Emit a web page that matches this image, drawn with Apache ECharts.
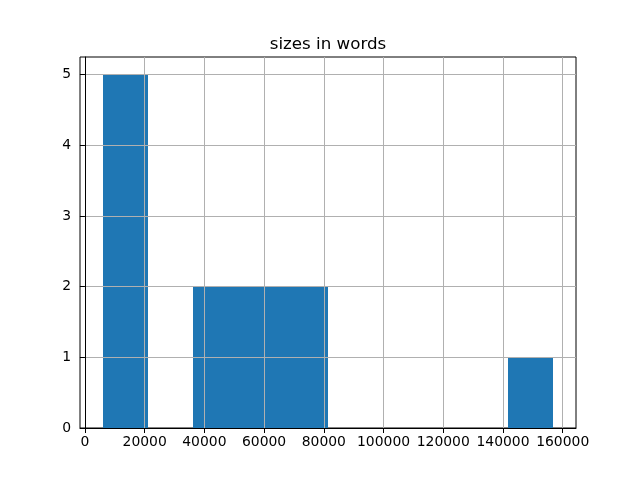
<!DOCTYPE html>
<html>
<head>
<meta charset="utf-8">
<script src="https://cdn.jsdelivr.net/npm/echarts@6/dist/echarts.min.js"></script>
<style>html,body{margin:0;padding:0;background:#fff}#c{width:640px;height:480px}</style>
</head>
<body>
<div id="c"></div>
<script>
var titleText = 'sizes in words';
var binStarts = [5900, 21000, 36100, 51200, 66300, 81400, 96500, 111600, 126700, 141800];
var binEnds   = [21000, 36100, 51200, 66300, 81400, 96500, 111600, 126700, 141800, 156900];
var counts    = [5, 0, 2, 2, 2, 0, 0, 0, 0, 1];
var xTicks = [0, 20000, 40000, 60000, 80000, 100000, 120000, 140000, 160000];
var yTicks = [0, 1, 2, 3, 4, 5];

var data = [];
for (var i = 0; i < counts.length; i++) {
  if (counts[i] > 0) data.push([binStarts[i], binEnds[i], counts[i]]);
}
var font = 'DejaVu Sans';
var chart = echarts.init(document.getElementById('c'), null, {renderer: 'canvas'});
chart.setOption({
  animation: false,
  backgroundColor: '#fff',
  title: {
    text: titleText, left: 323, top: 31, textAlign: 'center',
    textStyle: {fontFamily: font, fontSize: 16.7, fontWeight: 'normal', color: '#000'}
  },
  grid: {left: 80, right: 64, top: 57, bottom: 52, show: true, borderColor: '#000', borderWidth: 1, backgroundColor: 'transparent'},
  xAxis: {
    type: 'value', min: -1650, max: 164450, z: 3,
    axisLine: {show: true, onZero: false, lineStyle: {color: '#000', width: 1}},
    axisTick: {show: true, length: 5, customValues: xTicks, lineStyle: {color: '#000', width: 1}},
    axisLabel: {customValues: xTicks, margin: 7, color: '#000', fontFamily: font, fontSize: 13.9,
      formatter: function (v) { return String(v); }},
    splitLine: {show: true, lineStyle: {color: '#b0b0b0', width: 1}}
  },
  yAxis: {
    type: 'value', min: 0, max: 5.25, z: 3,
    axisLine: {show: true, lineStyle: {color: '#000', width: 1}},
    axisTick: {show: true, length: 5, customValues: yTicks, lineStyle: {color: '#000', width: 1}},
    axisLabel: {customValues: yTicks, margin: 9, color: '#000', fontFamily: font, fontSize: 13.9},
    splitLine: {show: true, lineStyle: {color: '#b0b0b0', width: 1}}
  },
  series: [{
    type: 'custom',
    z: 2,
    data: data,
    encode: {x: [0, 1], y: 2},
    renderItem: function (params, api) {
      var p0 = api.coord([api.value(0), api.value(2)]);
      var p1 = api.coord([api.value(1), 0]);
      var x0 = Math.round(p0[0]), x1 = Math.round(p1[0]);
      var y0 = Math.round(p0[1]), y1 = Math.round(p1[1]);
      return {
        type: 'rect',
        shape: {x: x0, y: y0, width: x1 - x0, height: y1 - y0},
        style: {fill: '#1f77b4'}
      };
    }
  }]
});
</script>
</body>
</html>
